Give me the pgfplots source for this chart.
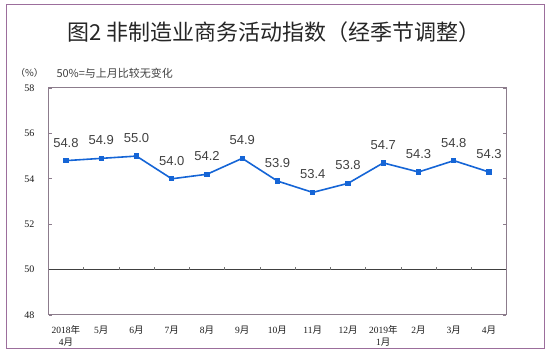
\documentclass[border=0pt]{standalone}
\usepackage{fontspec}
\setmainfont{Liberation Serif}
\newfontfamily\cjk{Noto Sans CJK SC}
\newfontfamily\arial{Liberation Sans}
\usepackage{pgfplots}
\pgfplotsset{compat=1.18}
\definecolor{frame}{HTML}{9C6E9C}
\definecolor{axframe}{HTML}{8C7C8C}
\definecolor{blueline}{HTML}{1565D6}
\definecolor{lab}{HTML}{404040}
\newcommand{\y}{{\cjk 年}}
\newcommand{\m}{{\cjk 月}}
\begin{document}
\begin{tikzpicture}[x=1pt,y=1pt]
\path[use as bounding box] (0,0) rectangle (550,358);
\draw[frame, line width=1pt] (6,9) rectangle (544,353);
\node[font=\cjk\fontsize{22}{24}\selectfont, text=black!85] at (274,326) {图2 非制造业商务活动指数（经季节调整）};
\node[font=\cjk\fontsize{9.5}{10}\selectfont, text=black!80] at (29.5,285) {（\%）};
\node[font=\cjk\fontsize{11}{12}\selectfont, text=lab, anchor=west] at (53,285) {50\%=与上月比较无变化};
\begin{axis}[at={(49pt,43pt)}, anchor=south west, width=457pt, height=227pt, scale only axis,
  xmin=-0.48, xmax=12.48, ymin=48, ymax=58, ytick={48,50,...,58},
  xtick={0,...,12},
  xticklabels={{2018\y\\4\m},{5\m},{6\m},{7\m},{8\m},{9\m},{10\m},{11\m},{12\m},{2019\y\\1\m},{2\m},{3\m},{4\m}},
  x tick style={draw=none},
  y tick style={axframe, line width=0.6pt},
  tick align=inside, major tick length=3pt,
  xticklabel style={align=center, font=\fontsize{9.5}{12}\selectfont, text=black!90, yshift=-7pt},
  yticklabel style={font=\fontsize{10}{10}\selectfont, text=black!90, xshift=-11pt},
  /pgf/number format/assume math mode=true,
  axis line style={draw=axframe, line width=1pt},
  clip=false,
  nodes near coords={\pgfmathprintnumber[fixed,fixed zerofill,precision=1]{\pgfplotspointmeta}},
  every node near coord/.append style={font=\arial\fontsize{13}{14}\selectfont, text=lab, anchor=center, yshift=18pt},
]
\draw[black!75, line width=0.7pt] (axis cs:-0.48,50) -- (axis cs:12.48,50);
\pgfplotsinvokeforeach{0.5,1.5,2.5,3.5,4.5,5.5,6.5,7.5,8.5,9.5,10.5,11.5}{
  \draw[black!55, line width=0.6pt] (axis cs:#1,50) -- ++(0pt,3pt);
}
\addplot[blueline, line width=1.6pt, mark=square*, mark size=1.8pt, mark options={solid}] coordinates {
(0,54.8) (1,54.9) (2,55.0) (3,54.0) (4,54.2) (5,54.9) (6,53.9) (7,53.4) (8,53.8) (9,54.7) (10,54.3) (11,54.8) (12,54.3)
};
\end{axis}
\end{tikzpicture}
\end{document}
